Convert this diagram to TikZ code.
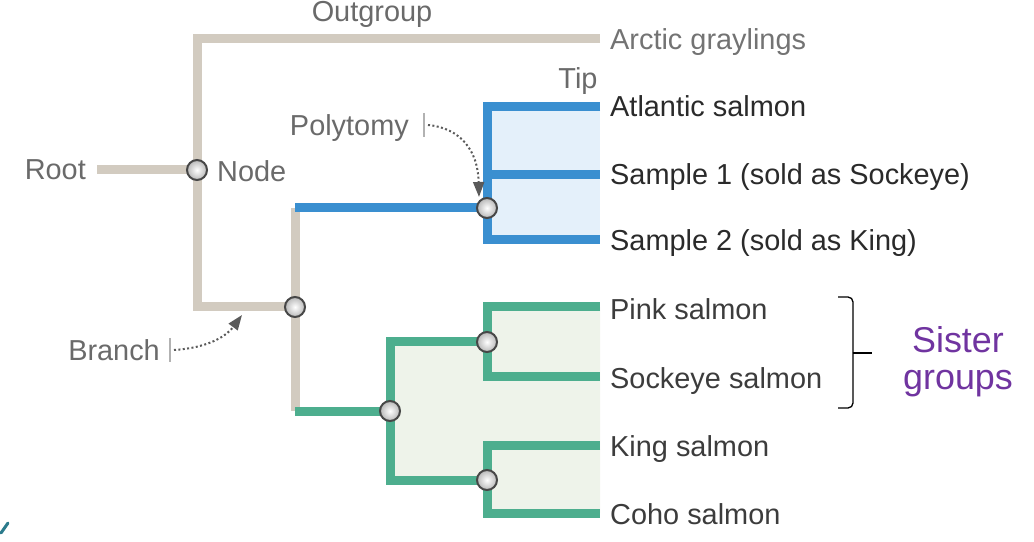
\documentclass[tikz,border=0pt]{standalone}
\usepackage{fontspec}
\setmainfont{Liberation Sans}
\usetikzlibrary{arrows.meta}
\definecolor{graybr}{HTML}{D2CBC0}
\definecolor{bluebr}{HTML}{3A8FD0}
\definecolor{greenbr}{HTML}{4DAE8E}
\definecolor{bluefill}{HTML}{E4F0FA}
\definecolor{greenfill}{HTML}{EEF3EA}
\definecolor{lbl}{HTML}{6A6A6A}
\definecolor{tipdark}{HTML}{2A2A2A}
\definecolor{tipgray}{HTML}{3C3C3C}
\definecolor{purp}{HTML}{7034A0}
\definecolor{teal}{HTML}{2C7B8C}
\definecolor{arr}{HTML}{5A5A5A}
\tikzset{
  br/.style={line width=9bp, line cap=butt, line join=miter},
  grayb/.style={br, draw=graybr},
  blueb/.style={br, draw=bluebr},
  greenb/.style={br, draw=greenbr},
  knot/.style={circle, minimum size=20bp, inner sep=0pt, line width=2bp, draw=black!72, inner color=white, outer color=black!28},
  tiplab/.style={anchor=base west, inner sep=0pt, font=\fontsize{29}{33}\selectfont},
  annot/.style={inner sep=0pt, text=lbl, font=\fontsize{29}{33}\selectfont},
  dotarr/.style={draw=arr, line width=2bp, dash pattern=on 2bp off 2.4bp, -{Triangle[length=15bp,width=11bp,fill=arr]}},
  tickbar/.style={draw=black!30, line width=1.6bp}
}
\begin{document}
\begin{tikzpicture}[x=1bp,y=-1bp]
\useasboundingbox (0,0) rectangle (1034,542);
% light fills
\fill[bluefill] (487,107) rectangle (600,240);
\fill[greenfill] (390,342) -- (487,342) -- (487,307) -- (600,307) -- (600,513) -- (487,513) -- (487,480) -- (390,480) -- cycle;
% coordinates
\coordinate (rootend) at (97,170);
\coordinate (tArc) at (600,39);
\coordinate (tAtl) at (600,107);
\coordinate (tS1) at (600,175);
\coordinate (tS2) at (600,240);
\coordinate (tPink) at (600,307);
\coordinate (tSock) at (600,376);
\coordinate (tKing) at (600,445);
\coordinate (tCoho) at (600,513);
% gray branches
\draw[grayb] (rootend) -- (197,170);
\draw[grayb] (tArc) -- (197,39) -- (197,307) -- (295,307);
\draw[grayb] (295,208) -- (295,411);
% blue clade
\draw[blueb] (295,208) -- (487,208);
\draw[blueb] (tAtl) -- (487,107) -- (487,240) -- (tS2);
\draw[blueb] (487,175) -- (tS1);
% green clade
\draw[greenb] (295,411) -- (390,411);
\draw[greenb] (487,342) -- (390,342) -- (390,480) -- (487,480);
\draw[greenb] (tPink) -- (487,307) -- (487,376) -- (tSock);
\draw[greenb] (tKing) -- (487,445) -- (487,513) -- (tCoho);
% nodes (circles)
\node[knot] (nroot) at (197,170) {};
\node[knot] (nmid) at (295,307) {};
\node[knot] (npoly) at (487,208) {};
\node[knot] (ngreen) at (390,411) {};
\node[knot] (nps) at (487,342) {};
\node[knot] (nkc) at (487,480) {};
% tip labels
\node[tiplab, text=black!55] (lArc) at (610,50) {Arctic graylings};
\node[tiplab, text=tipdark] (lAtl) at (610,117) {Atlantic salmon};
\node[tiplab, text=tipdark] (lS1) at (610,185) {Sample 1 (sold as Sockeye)};
\node[tiplab, text=tipdark] (lS2) at (610,251) {Sample 2 (sold as King)};
\node[tiplab, text=tipgray] (lPink) at (610,320) {Pink salmon};
\node[tiplab, text=tipgray] (lSock) at (610,388) {Sockeye salmon};
\node[tiplab, text=tipgray] (lKing) at (610,456) {King salmon};
\node[tiplab, text=tipgray] (lCoho) at (610,524) {Coho salmon};
% annotation labels
\node[annot, anchor=base east] (lRoot) at (86,180) {Root};
\node[annot, anchor=base west] (lNode) at (217,182) {Node};
\node[annot, anchor=base] (lOut) at (372,22) {Outgroup};
\node[annot, anchor=base] (lTip) at (578,89) {Tip};
\node[annot, anchor=base east] (lPoly) at (409,136) {Polytomy};
\node[annot, anchor=base east] (lBranch) at (160,361) {Branch};
% pointer arrows
\coordinate (pbar) at (424,125);
\draw[tickbar] (424,113) -- (424,137);
\draw[dotarr] (428,125) .. controls (460,128) and (478,150) .. (479,197);
\coordinate (bbar) at (170,350);
\draw[tickbar] (170,338) -- (170,362);
\draw[dotarr] (174,350) .. controls (205,348) and (225,338) .. (242,315);
% bracket
\draw[black, line width=1.3bp, rounded corners=5bp] (838,297) -- (853,297) -- (853,353);
\draw[black, line width=1.3bp, rounded corners=5bp] (838,408) -- (853,408) -- (853,353);
\draw[black, line width=1.3bp] (853,353) -- (872,353);
\node[text=purp, font=\fontsize{36}{40}\selectfont, align=center, inner sep=0pt] (lSister) at (958,362) {Sister\\[-3bp]groups};
% stray teal mark
\draw[teal, line width=3bp, line cap=round] (8,523) -- (1,533);
\end{tikzpicture}
\end{document}
